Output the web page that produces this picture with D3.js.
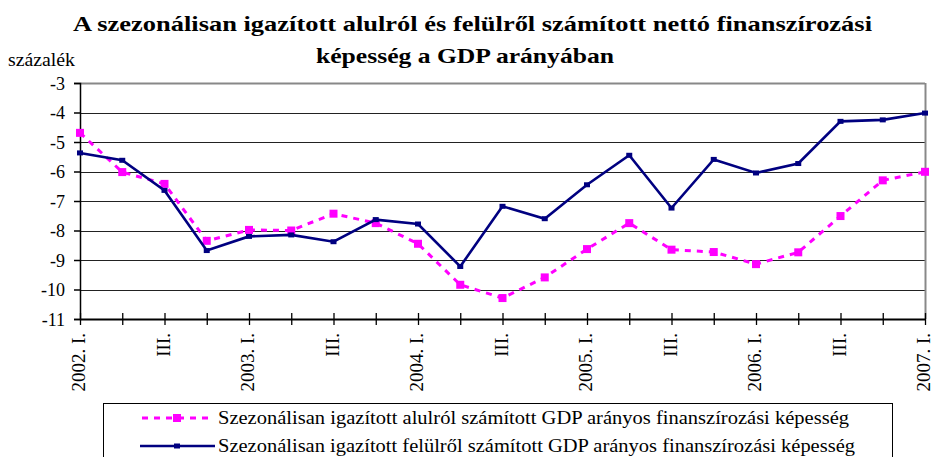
<!DOCTYPE html>
<html><head><meta charset="utf-8">
<script src="https://cdn.jsdelivr.net/npm/d3@7"></script>
<style>body{margin:0;background:#fff}svg{display:block}</style>
</head><body><svg id="c" width="933" height="457"></svg>
<script>
const categories = ["2002. I.","II.","III.","IV.","2003. I.","II.","III.","IV.","2004. I.","II.","III.","IV.","2005. I.","II.","III.","IV.","2006. I.","II.","III.","IV.","2007. I."];
const shownLabels = ["2002. I.","","III.","","2003. I.","","III.","","2004. I.","","III.","","2005. I.","","III.","","2006. I.","","III.","","2007. I."];
const alulrol = [-4.69,-6.02,-6.42,-8.35,-7.98,-8.0,-7.43,-7.75,-8.45,-9.84,-10.29,-9.59,-8.63,-7.75,-8.65,-8.73,-9.14,-8.74,-7.51,-6.30,-6.01];
const felulrol = [-5.37,-5.62,-6.64,-8.68,-8.20,-8.15,-8.38,-7.63,-7.78,-9.22,-7.18,-7.60,-6.45,-5.45,-7.24,-5.59,-6.05,-5.73,-4.30,-4.25,-4.02];
const yTicks = [-3,-4,-5,-6,-7,-8,-9,-10,-11];
const seriesNames = ["Szezonálisan igazított alulról számított GDP arányos finanszírozási képesség","Szezonálisan igazított felülről számított GDP arányos finanszírozási képesség"];
const titleLines = ["A szezonálisan igazított alulról és felülről számított nettó finanszírozási","képesség a GDP arányában"];
const unitLabel = "százalék";

const FONT = "'Liberation Serif','DejaVu Serif',serif";
const svg = d3.select("#c");
const L=80,R=925,T=83,B=319;
const x = d3.scalePoint().domain(d3.range(categories.length)).range([L,R]);
const y = d3.scaleLinear().domain([-11,-3]).range([B,T]);

// title
svg.append("text").attr("x",73).attr("y",31).style("font-family",FONT).style("font-size","22px").style("font-weight","bold")
  .attr("textLength",799).attr("lengthAdjust","spacingAndGlyphs").text(titleLines[0]);
svg.append("text").attr("x",316).attr("y",63).style("font-family",FONT).style("font-size","22px").style("font-weight","bold")
  .attr("textLength",298).attr("lengthAdjust","spacingAndGlyphs").text(titleLines[1]);
svg.append("text").attr("x",8).attr("y",66).style("font-family",FONT).style("font-size","18px")
  .attr("textLength",67).attr("lengthAdjust","spacingAndGlyphs").text(unitLabel);

// gridlines
svg.append("g").selectAll("line").data(yTicks.filter(d=>d>-11)).join("line")
  .attr("x1",L).attr("x2",R).attr("y1",d=>Math.round(y(d))+0.5).attr("y2",d=>Math.round(y(d))+0.5)
  .attr("stroke",d=>d===-3?"#888":"#222").attr("stroke-width",d=>d===-3?2:1);
// right border
svg.append("line").attr("x1",R+0.5).attr("x2",R+0.5).attr("y1",T).attr("y2",B).attr("stroke","#888").attr("stroke-width",2);

// y axis
const ya = svg.append("g").attr("transform",`translate(${L},0)`)
  .call(d3.axisLeft(y).tickValues(yTicks).tickSize(6).tickPadding(9).tickFormat(d=>String(d)));
ya.select(".domain").attr("stroke","#000").attr("stroke-width",1.5);
ya.selectAll(".tick line").attr("stroke","#000").attr("stroke-width",1.5);
ya.selectAll("text").style("font-size","18px").style("font-family",FONT).attr("fill","#000").attr("dy","0.35em");

// x axis
const xa = svg.append("g").attr("transform",`translate(0,${B})`)
  .call(d3.axisBottom(x).tickSize(6).tickSizeOuter(0).tickFormat(i=>shownLabels[i]));
xa.select(".domain").attr("stroke","#000").attr("stroke-width",2);
xa.selectAll(".tick line").attr("stroke","#000").attr("stroke-width",1.3).attr("y1",-6).attr("y2",6);
xa.selectAll("text").style("font-size","19px").style("font-family",FONT).attr("fill","#000")
  .attr("text-anchor","end").attr("transform","rotate(-90)").attr("x",-14).attr("y",-2).attr("dy","0.35em");

// pink series
svg.append("path").datum(alulrol).attr("fill","none").attr("stroke","#ff00ff").attr("stroke-width",3)
  .attr("stroke-dasharray","6,6")
  .attr("d",d3.line().x((d,i)=>x(i)).y(d=>y(d)));
svg.append("g").selectAll("rect").data(alulrol).join("rect")
  .attr("x",(d,i)=>x(i)-4).attr("y",d=>y(d)-4).attr("width",8).attr("height",8).attr("fill","#ff00ff");

// blue series
svg.append("path").datum(felulrol).attr("fill","none").attr("stroke","#000080").attr("stroke-width",2.6)
  .attr("d",d3.line().x((d,i)=>x(i)).y(d=>y(d)));
svg.append("g").selectAll("rect").data(felulrol).join("rect")
  .attr("x",(d,i)=>x(i)-3).attr("y",d=>y(d)-2.5).attr("width",6).attr("height",5).attr("fill","#000080");

// legend
svg.append("rect").attr("x",103.5).attr("y",403.5).attr("width",789).attr("height",70)
  .attr("fill","#fff").attr("stroke","#000").attr("stroke-width",1);
svg.append("line").attr("x1",142).attr("x2",210).attr("y1",418).attr("y2",418)
  .attr("stroke","#ff00ff").attr("stroke-width",3).attr("stroke-dasharray","6,6");
svg.append("rect").attr("x",173).attr("y",414).attr("width",8).attr("height",8).attr("fill","#ff00ff");
svg.append("line").attr("x1",140).attr("x2",215).attr("y1",446).attr("y2",446)
  .attr("stroke","#000080").attr("stroke-width",2.6);
svg.append("rect").attr("x",174).attr("y",443.5).attr("width",6).attr("height",5).attr("fill","#000080");
svg.append("text").attr("x",218).attr("y",418).attr("dy","0.35em").style("font-family",FONT).style("font-size","18px")
  .attr("textLength",631).attr("lengthAdjust","spacingAndGlyphs").text(seriesNames[0]);
svg.append("text").attr("x",218).attr("y",446).attr("dy","0.35em").style("font-family",FONT).style("font-size","18px")
  .attr("textLength",637).attr("lengthAdjust","spacingAndGlyphs").text(seriesNames[1]);
</script></body></html>
